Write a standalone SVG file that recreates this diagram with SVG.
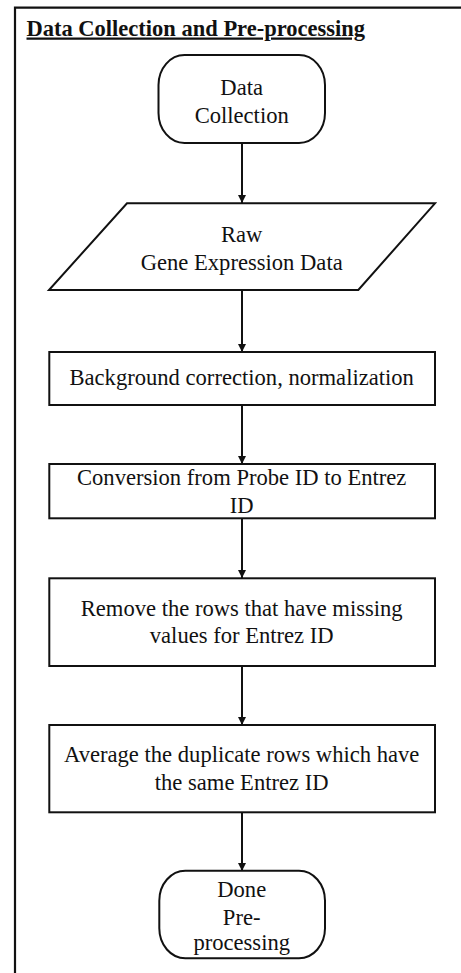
<svg xmlns="http://www.w3.org/2000/svg" width="461" height="973" viewBox="0 0 461 973">
<style>
.shape{fill:#fff;stroke:#111;stroke-width:2}
text{font-family:'Liberation Serif','Times New Roman','DejaVu Serif',serif}
.t{font-size:22.6px;fill:#111;text-anchor:middle}
.title{font-size:22.5px;font-weight:bold;fill:#111;text-decoration:underline}
.conn{stroke:#111;stroke-width:2;fill:none;marker-end:url(#ah)}
</style>
<defs>
<marker id="ah" viewBox="0 0 8 8" refX="8" refY="4" markerWidth="8" markerHeight="8" markerUnits="userSpaceOnUse" orient="auto">
<path d="M0,0 L8,4 L0,8 Z" fill="#111"/>
</marker>
</defs>
<rect width="461" height="973" fill="#fff"/>
<g id="frame">
<path d="M15,973 L15,7.7 L461,7.7" fill="none" stroke="#111" stroke-width="2.2"/>
<text class="title" x="26.5" y="35.5" font-family="Liberation Serif, serif">Data Collection  and Pre-processing</text>
</g>
<g id="connectors">
<line class="conn" x1="242" y1="143" x2="242" y2="203"/>
<line class="conn" x1="242" y1="290" x2="242" y2="352"/>
<line class="conn" x1="242" y1="405" x2="242" y2="464"/>
<line class="conn" x1="242" y1="518" x2="242" y2="578"/>
<line class="conn" x1="242" y1="666" x2="242" y2="725"/>
<line class="conn" x1="242" y1="812" x2="242" y2="871"/>
</g>
<g id="start">
<rect class="shape" x="158.5" y="55" width="166.5" height="88" rx="26" ry="30"/>
<text class="t" x="241.7" y="95">Data</text>
<text class="t" x="241.7" y="123">Collection</text>
</g>
<g id="raw-data">
<polygon class="shape" points="127,203.3 435,203.3 358.3,290 49,290"/>
<text class="t" x="241.7" y="241.7">Raw</text>
<text class="t" x="241.7" y="270">Gene Expression  Data</text>
</g>
<g id="background">
<rect class="shape" x="49.3" y="352" width="385.7" height="53"/>
<text class="t" x="241.7" y="385">Background correction, normalization</text>
</g>
<g id="conversion">
<rect class="shape" x="49.3" y="464" width="385.7" height="54.3"/>
<text class="t" x="241.7" y="485">Conversion  from Probe ID to Entrez</text>
<text class="t" x="241.7" y="512.7">ID</text>
</g>
<g id="remove">
<rect class="shape" x="49.3" y="578.3" width="385.7" height="87.7"/>
<text class="t" x="241.7" y="616">Remove the rows that have missing</text>
<text class="t" x="241.7" y="643.3">values for Entrez ID</text>
</g>
<g id="average">
<rect class="shape" x="49.3" y="725" width="385.7" height="87.3"/>
<text class="t" x="241.7" y="761.7">Average the duplicate rows which have</text>
<text class="t" x="241.7" y="790">the same Entrez ID</text>
</g>
<g id="done">
<rect class="shape" x="159.3" y="870.7" width="165.7" height="87.6" rx="26" ry="30"/>
<text class="t" x="241.7" y="896.7">Done</text>
<text class="t" x="241.7" y="925">Pre-</text>
<text class="t" x="241.7" y="950">processing</text>
</g>
</svg>
